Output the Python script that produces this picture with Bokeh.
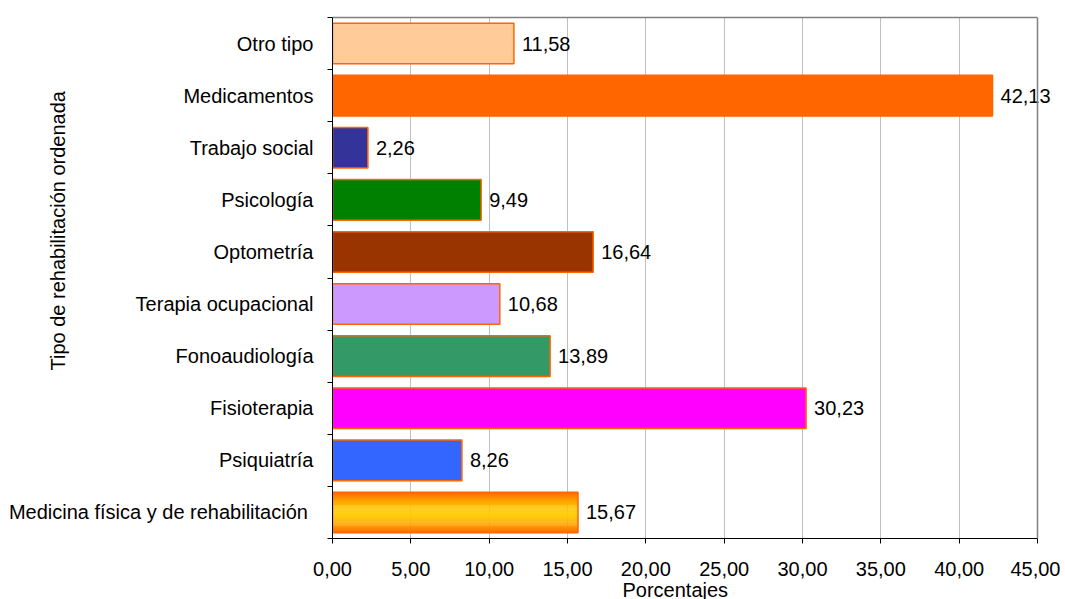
import numpy as np
from bokeh.plotting import figure
from bokeh.models import (Range1d, FixedTicker, ColumnDataSource, LabelSet, Span,
                          LinearAxis, Title)
from bokeh.core.properties import value
from bokeh.embed import file_html
from bokeh.resources import INLINE

# ---- data (top to bottom as in the chart) ----
categories = ["Otro tipo", "Medicamentos", "Trabajo social", "Psicología",
              "Optometría", "Terapia ocupacional", "Fonoaudiología",
              "Fisioterapia", "Psiquiatría", "Medicina física y de  rehabilitación"]
values = [11.58, 42.13, 2.26, 9.49, 16.64, 10.68, 13.89, 30.23, 8.26, 15.67]
colors = ["#FFCC99", "#FF6600", "#333399", "#008000", "#993300",
          "#CC99FF", "#339966", "#FF00FF", "#3366FF", "gradient"]
x_ticks = [0, 5, 10, 15, 20, 25, 30, 35, 40, 45]
x_tick_labels = ["0,00", "5,00", "10,00", "15,00", "20,00", "25,00",
                 "30,00", "35,00", "40,00", "45,00"]
value_labels = [f"{v:.2f}".replace(".", ",") for v in values]
x_title = "Porcentajes"
y_title = "Tipo de rehabilitación ordenada"

FONT = "Liberation Sans"
FS = "20px"
EDGE = "#FF6600"
BORDER = "#808080"
GRAD_EDGE = (0xFF, 0x66, 0x00)
GRAD_MID = (0xFF, 0xCC, 0x00)
BAR_H = 0.78

n = len(categories)
ypos = [n - 1 - i for i in range(n)]

# frame is a little wider than the axis so value labels are not clipped
AX_W = 705
EXTRA = 23
x_end = x_ticks[-1] * (AX_W + EXTRA) / AX_W

p = figure(frame_width=AX_W + EXTRA, frame_height=521,
           x_range=Range1d(x_ticks[0], x_end),
           y_range=Range1d(-0.5, n - 0.5),
           output_backend="svg", toolbar_location=None,
           min_border_left=332, min_border_top=17, min_border_right=0,
           min_border_bottom=20)
p.background_fill_color = "white"
p.border_fill_color = "white"
p.outline_line_color = None

# solid bars
solid = [i for i in range(n) if colors[i] != "gradient"]
src = ColumnDataSource(dict(y=[ypos[i] for i in solid],
                            right=[values[i] for i in solid],
                            color=[colors[i] for i in solid]))
p.hbar(y="y", left=0, right="right", height=BAR_H, fill_color="color",
       line_color=None, source=src)

# gradient bars (vertical orange-yellow-orange)
K = 40
for i in range(n):
    if colors[i] != "gradient":
        continue
    ys, cs = [], []
    for k in range(K):
        off = -BAR_H / 2 + (k + 0.5) * BAR_H / K
        t = min(1.0, abs(off) / (BAR_H / 2)) ** 1.6
        c = tuple(int(round(GRAD_MID[j] + (GRAD_EDGE[j] - GRAD_MID[j]) * t)) for j in range(3))
        ys.append(ypos[i] + off)
        cs.append("#%02X%02X%02X" % c)
    gsrc = ColumnDataSource(dict(y=ys, right=[values[i]] * K, color=cs))
    p.hbar(y="y", left=0, right="right", height=BAR_H / K * 1.4,
           fill_color="color", line_color=None, source=gsrc)

# outlines
osrc = ColumnDataSource(dict(y=ypos, right=values))
p.hbar(y="y", left=0, right="right", height=BAR_H, fill_color=None,
       line_color=EDGE, line_width=1.5, source=osrc)

# value labels
lsrc = ColumnDataSource(dict(x=values, y=ypos, text=value_labels))
p.add_layout(LabelSet(x="x", y="y", text="text", source=lsrc, x_offset=8,
                      text_baseline="middle", text_font=value(FONT),
                      text_font_size=value(FS), text_color="black"))

# grid
p.xgrid.ticker = FixedTicker(ticks=x_ticks)
p.xgrid.grid_line_color = "#C0C0C0"
p.ygrid.grid_line_color = None

# right border of the plot area
p.add_layout(Span(location=x_ticks[-1], dimension="height",
                  line_color=BORDER, line_width=1.5))

# x axis
p.xaxis.bounds = (x_ticks[0], x_ticks[-1])
p.xaxis.ticker = FixedTicker(ticks=x_ticks)
p.xaxis.major_label_overrides = {t: l for t, l in zip(x_ticks, x_tick_labels)}
p.xaxis.major_tick_in = 0
p.xaxis.major_tick_out = 5
p.xaxis.minor_tick_line_color = None
p.xaxis.major_label_standoff = 18
p.xaxis.major_label_text_font = FONT
p.xaxis.major_label_text_font_size = FS
p.xaxis.major_label_text_color = "black"
p.xaxis.axis_line_color = "black"
p.xaxis.major_tick_line_color = "black"

# top border as a bare axis
top = LinearAxis(bounds=(x_ticks[0], x_ticks[-1]), ticker=FixedTicker(ticks=[]),
                 major_label_text_font_size="0px", major_tick_line_color=None,
                 minor_tick_line_color=None, axis_line_color=BORDER,
                 axis_line_width=1.5)
p.add_layout(top, "above")

# y axis
boundaries = [k - 0.5 for k in range(n + 1)]
p.yaxis.ticker = FixedTicker(ticks=ypos, minor_ticks=boundaries)
p.yaxis.major_label_overrides = {y: c for y, c in zip(ypos, categories)}
p.yaxis.major_tick_in = 0
p.yaxis.major_tick_out = 0
p.yaxis.minor_tick_in = 0
p.yaxis.minor_tick_out = 5
p.yaxis.minor_tick_line_color = "black"
p.yaxis.major_label_standoff = 14
p.yaxis.major_label_text_font = FONT
p.yaxis.major_label_text_font_size = FS
p.yaxis.major_label_text_color = "black"
p.yaxis.axis_line_color = "black"

# axis titles as side titles
p.add_layout(Title(text=y_title, align="left", vertical_align="bottom",
                   offset=168, standoff=-126, text_font=FONT,
                   text_font_size=FS, text_font_style="normal",
                   text_color="black"), "left")
p.add_layout(Title(text=x_title, align="left", vertical_align="top",
                   offset=290, standoff=0, text_font=FONT,
                   text_font_size=FS, text_font_style="normal",
                   text_color="black"), "below")

open("out.html", "w").write(file_html(p, INLINE))
